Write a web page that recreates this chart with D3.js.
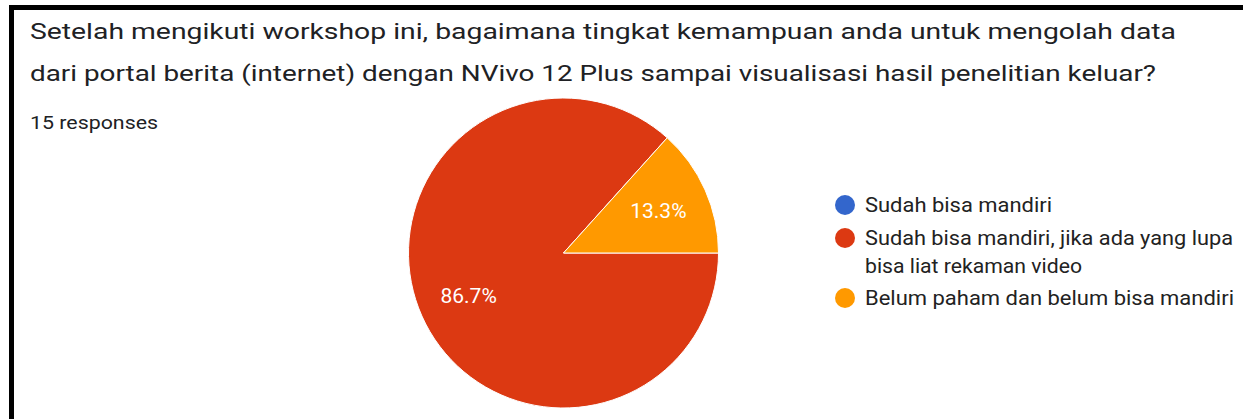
<!DOCTYPE html>
<html><head><meta charset="utf-8">
<script src="https://cdn.jsdelivr.net/npm/d3@7"></script>
<style>
html,body{margin:0;padding:0;background:#fff;}
svg{display:block;}
</style></head>
<body>
<svg id="c" width="1243" height="419"></svg>
<script>
const titleLines = ["Setelah mengikuti workshop ini, bagaimana tingkat kemampuan anda untuk mengolah data",
  "dari portal berita (internet) dengan NVivo 12 Plus sampai visualisasi hasil penelitian keluar?"];
const subtitle = "15 responses";
const categories = ["Sudah bisa mandiri", "Sudah bisa mandiri, jika ada yang lupa bisa liat rekaman video", "Belum paham dan belum bisa mandiri"];
const legendLines = [["Sudah bisa mandiri"], ["Sudah bisa mandiri, jika ada yang lupa", "bisa liat rekaman video"], ["Belum paham dan belum bisa mandiri"]];
const values = [0, 13, 2];
const colors = ["#3366cc", "#dc3912", "#ff9900"];

// text layout (widths measured from reference)
const titleWidths = [1146, 1126];
const legendWidths = [[187], [368, 217], [369]];

const svg = d3.select("#c");
svg.append("rect").attr("x", 0).attr("y", 0).attr("width", 1243).attr("height", 419).attr("fill", "#fff");
svg.append("line").attr("x1", 9).attr("x2", 1243).attr("y1", 7.5).attr("y2", 7.5).attr("stroke", "#000").attr("stroke-width", 5);
svg.append("line").attr("x1", 11.5).attr("x2", 11.5).attr("y1", 5).attr("y2", 419).attr("stroke", "#000").attr("stroke-width", 5);

svg.selectAll("text.title").data(titleLines).join("text").attr("class", "title")
  .attr("x", 30).attr("y", (d, i) => 39 + i * 42)
  .attr("font-family", "Roboto, 'Open Sans', sans-serif").attr("font-size", 22)
  .attr("textLength", (d, i) => titleWidths[i]).attr("lengthAdjust", "spacingAndGlyphs")
  .attr("fill", "#202124").text(d => d);

svg.append("text").attr("x", 30).attr("y", 129)
  .attr("font-family", "Roboto, sans-serif").attr("font-size", 19)
  .attr("textLength", 128).attr("lengthAdjust", "spacingAndGlyphs")
  .attr("fill", "#202124").text(subtitle);

const cx = 563.5, cy = 253, r = 155;
const total = d3.sum(values);
const pie = d3.pie().sort(null).value(d => d).startAngle(Math.PI / 2).endAngle(Math.PI / 2 + 2 * Math.PI);
const arcs = pie(values);
const arc = d3.arc().innerRadius(0).outerRadius(r);
const labelArc = d3.arc().innerRadius(r * 0.67).outerRadius(r * 0.67);
const g = svg.append("g").attr("transform", `translate(${cx},${cy})`);
g.selectAll("path").data(arcs.filter(a => a.value > 0)).join("path")
  .attr("d", arc).attr("fill", d => colors[d.index]).attr("stroke", "#fff").attr("stroke-width", 1);
g.selectAll("text").data(arcs.filter(a => a.value > 0)).join("text")
  .attr("transform", d => `translate(${labelArc.centroid(d)})`)
  .attr("text-anchor", "middle").attr("dy", "0.36em")
  .attr("font-family", "Roboto, Arial, sans-serif").attr("font-size", 21)
  .attr("fill", "#fff").text(d => (d.value / total * 100).toFixed(1) + "%");

const legendY = [205, 238, 298];
const lg = svg.append("g");
legendLines.forEach((lines, i) => {
  lg.append("circle").attr("cx", 845).attr("cy", legendY[i]).attr("r", 10).attr("fill", colors[i]);
  lines.forEach((t, j) => {
    lg.append("text").attr("x", 865).attr("y", legendY[i] + j * 28).attr("dy", "0.36em")
      .attr("font-family", "Roboto, Arial, sans-serif").attr("font-size", 19.5)
      .attr("textLength", legendWidths[i][j]).attr("lengthAdjust", "spacingAndGlyphs")
      .attr("fill", "#222").text(t);
  });
});
</script>
</body></html>
